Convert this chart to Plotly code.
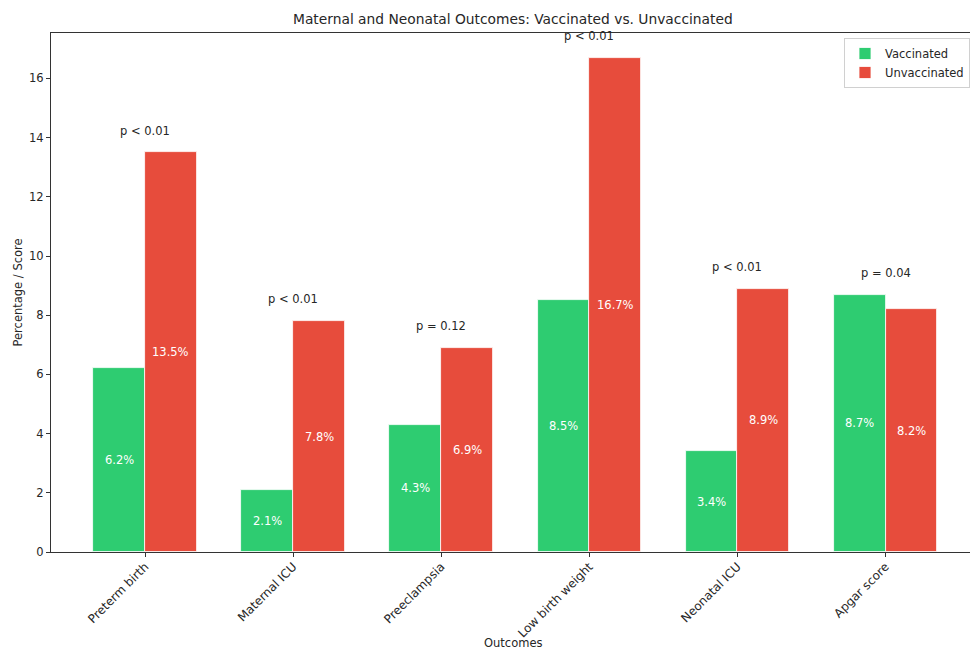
import plotly.graph_objects as go

categories = ["Preterm birth", "Maternal ICU", "Preeclampsia", "Low birth weight", "Neonatal ICU", "Apgar score"]
vaccinated = [6.2, 2.1, 4.3, 8.5, 3.4, 8.7]
unvaccinated = [13.5, 7.8, 6.9, 16.7, 8.9, 8.2]
p_values = ["p < 0.01", "p < 0.01", "p = 0.12", "p < 0.01", "p < 0.01", "p = 0.04"]
y_ticks = [0, 2, 4, 6, 8, 10, 12, 14, 16]

GREEN = "#2ecc71"
RED = "#e74c3c"
FONT = "DejaVu Sans"
TXT = "#262626"
width = 0.35
idx = list(range(len(categories)))

fig = go.Figure()
fig.add_trace(go.Bar(
    x=[i - width / 2 for i in idx], y=vaccinated, width=width, name="Vaccinated",
    marker=dict(color=GREEN, line=dict(color="white", width=0.8)),
))
fig.add_trace(go.Bar(
    x=[i + width / 2 for i in idx], y=unvaccinated, width=width, name="Unvaccinated",
    marker=dict(color=RED, line=dict(color="white", width=0.8)),
))

annotations = []
for i in idx:
    annotations.append(dict(x=i - width / 2, y=vaccinated[i] / 2, text=f"{vaccinated[i]}%",
                            showarrow=False, font=dict(color="white", size=11.5, family=FONT)))
    annotations.append(dict(x=i + width / 2, y=unvaccinated[i] / 2, text=f"{unvaccinated[i]}%",
                            showarrow=False, font=dict(color="white", size=11.5, family=FONT)))
    top = max(vaccinated[i], unvaccinated[i])
    annotations.append(dict(x=i, y=top + 0.5, text=p_values[i], showarrow=False,
                            yanchor="bottom", yshift=-2,
                            font=dict(color=TXT, size=11.5, family=FONT)))

# axis titles and figure title
annotations.append(dict(xref="paper", yref="paper", x=0.5025, y=0, yshift=-91, yanchor="middle",
                        text="Outcomes", showarrow=False, font=dict(color=TXT, size=11.5, family=FONT)))
annotations.append(dict(xref="paper", yref="paper", x=0, xshift=-34, xanchor="center", y=0.5,
                        textangle=-90, text="Percentage / Score", showarrow=False,
                        font=dict(color=TXT, size=11.5, family=FONT)))
annotations.append(dict(xref="paper", yref="paper", x=0.5025, y=1, yshift=4, yanchor="bottom",
                        text="Maternal and Neonatal Outcomes: Vaccinated vs. Unvaccinated",
                        showarrow=False, font=dict(color=TXT, size=13.8, family=FONT)))

px_per_unit = 148.1
plot_w = 970 - 51
xmin = -0.635
xmax = xmin + plot_w / px_per_unit

fig.update_layout(
    width=970, height=650,
    margin=dict(l=51, r=0, t=33, b=98, autoexpand=False),
    plot_bgcolor="white", paper_bgcolor="white",
    barmode="overlay",
    bargap=0,
    showlegend=True,
    legend=dict(x=1.0, y=(552 - 38) / 519, xanchor="right", yanchor="top",
                bgcolor="rgba(255,255,255,0.8)", bordercolor="#d0d0d0", borderwidth=1,
                font=dict(size=11.5, family=FONT, color=TXT), tracegroupgap=0,
                itemwidth=30),
    font=dict(family=FONT, color=TXT, size=11.5),
    annotations=annotations,
    xaxis=dict(range=[xmin, xmax], tickvals=idx, ticktext=categories, tickangle=-45,
               showline=True, linecolor="#333333", linewidth=1, mirror=True,
               ticks="outside", ticklen=4, tickcolor="#333333", showgrid=False,
               ticklabelstandoff=-2,
               zeroline=False, automargin=False, tickfont=dict(size=12, family=FONT, color=TXT)),
    yaxis=dict(range=[0, 17.535], tickvals=y_ticks, showline=True, linecolor="#333333",
               linewidth=1, ticks="outside", ticklen=4, tickcolor="#333333", automargin=False,
               showgrid=False, zeroline=False, tickfont=dict(size=11.5, family=FONT, color=TXT)),
)

fig.write_html("out.html")
